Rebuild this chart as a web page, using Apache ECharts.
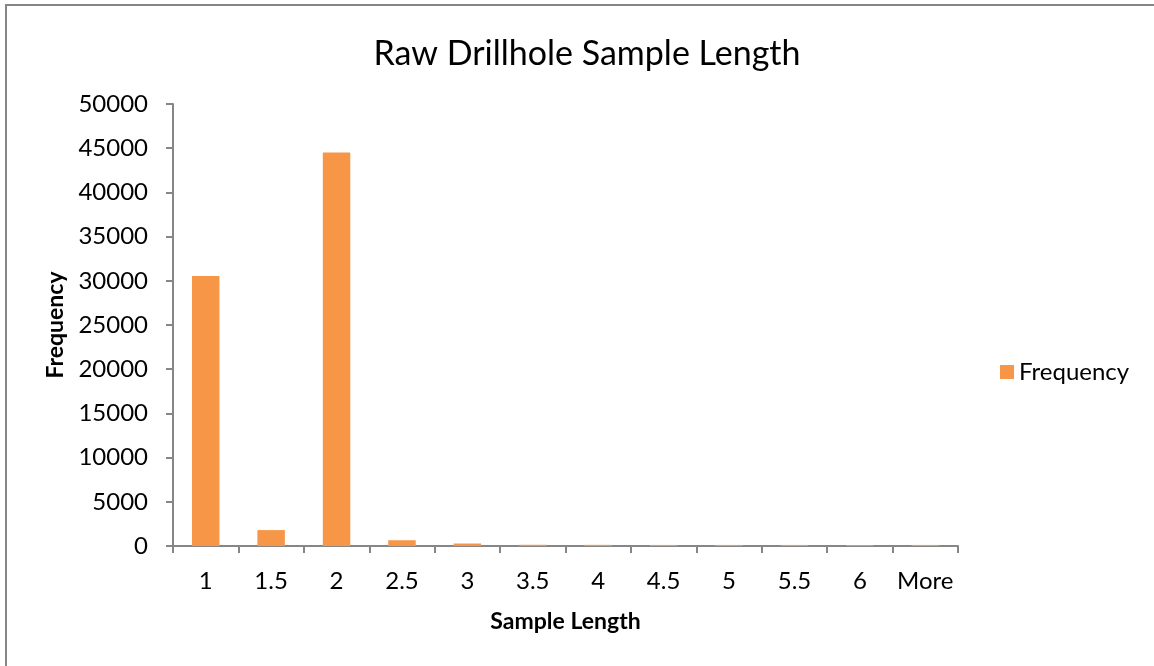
<!DOCTYPE html>
<html>
<head>
<meta charset="utf-8">
<script src="https://cdn.jsdelivr.net/npm/echarts@6/dist/echarts.min.js"></script>
<style>
  html, body { margin: 0; padding: 0; background: #fff; }
  #chart { width: 1154px; height: 666px; }
</style>
</head>
<body>
<div id="chart"></div>
<script>
  // 数据
  var categories = ['1', '1.5', '2', '2.5', '3', '3.5', '4', '4.5', '5', '5.5', '6', 'More']
  var frequency = [30550, 1800, 44500, 650, 280, 140, 130, 120, 120, 120, 110, 120]
  var yTicks = { min: 0, max: 50000, interval: 5000 }

  var font = 'Lato, "Open Sans", sans-serif'
  var chart = echarts.init(document.getElementById('chart'))
  var options = {
    animation: false,
    title: {
      text: 'Raw Drillhole Sample Length',
      left: 582,
      top: 32,
      textAlign: 'center',
      textStyle: { fontFamily: font, fontSize: 34, fontWeight: 'normal', color: '#000' }
    },
    legend: {
      data: ['Frequency'],
      orient: 'vertical',
      left: 995,
      top: 355,
      itemWidth: 14,
      itemHeight: 14,
      icon: 'rect',
      textStyle: { fontFamily: font, fontSize: 24, color: '#000' }
    },
    grid: {
      left: 173,
      right: 196,
      top: 104,
      bottom: 120,
      containLabel: false
    },
    xAxis: {
      type: 'category',
      data: categories,
      name: 'Sample Length',
      nameLocation: 'middle',
      nameGap: 64,
      nameTextStyle: { fontFamily: font, fontSize: 23, fontWeight: 'bold', color: '#000' },
      axisLine: { lineStyle: { color: '#868686', width: 2 } },
      axisTick: { show: true, length: 7, interval: 0, lineStyle: { color: '#868686', width: 2 } },
      axisLabel: { fontFamily: font, fontSize: 24, color: '#000', margin: 23, interval: 0 },
      splitLine: { show: false }
    },
    yAxis: {
      type: 'value',
      min: yTicks.min,
      max: yTicks.max,
      interval: yTicks.interval,
      name: 'Frequency',
      nameLocation: 'middle',
      nameRotate: 90,
      nameGap: 101,
      nameTextStyle: { fontFamily: font, fontSize: 23, fontWeight: 'bold', color: '#000' },
      axisLine: { show: true, lineStyle: { color: '#868686', width: 2 } },
      axisTick: { show: true, length: 7, lineStyle: { color: '#868686', width: 2 } },
      axisLabel: {
        fontFamily: font,
        fontSize: 24,
        color: '#000',
        margin: 25,
        formatter: function(v) { return String(v) } // 不要千分位
      },
      splitLine: { show: false }
    },
    series: [
      {
        name: 'Frequency',
        type: 'bar',
        data: frequency,
        barWidth: '42%',
        itemStyle: { color: '#F79646' }
      }
    ],
    graphic: [
      {
        type: 'rect',
        shape: { x: 6, y: 5, width: 1170, height: 700 },
        style: { fill: 'none', stroke: '#868686', lineWidth: 2 },
        silent: true
      }
    ]
  }
  chart.setOption(options)
</script>
</body>
</html>
